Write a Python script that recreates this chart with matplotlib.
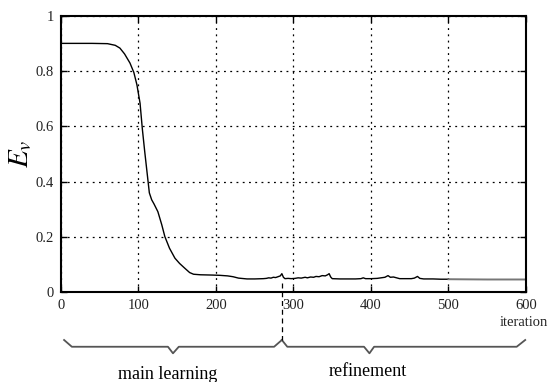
import matplotlib
matplotlib.use("Agg")
import matplotlib.pyplot as plt
import matplotlib.transforms as mtransforms

plt.rcParams['font.family'] = ['Liberation Serif', 'DejaVu Serif']
plt.rcParams['mathtext.fontset'] = 'stix'

# main learning + early refinement (black curve)
iters = [0, 20, 40, 60, 70, 76, 82, 89, 94, 98, 102, 105, 108, 110, 112, 114,
         117, 120, 125, 130, 134, 140, 147, 153, 160, 166, 171, 180, 195, 205,
         215, 222, 229, 240, 250, 261, 265, 268, 271, 274, 277, 280, 283, 285,
         287, 289, 293, 297, 302, 306, 310, 315, 318, 322, 326, 329, 333, 337,
         341, 344, 346, 348, 350, 360, 370, 380, 387, 390, 393, 400, 408, 413,
         418, 422, 425, 429, 433, 437, 445, 452, 456, 460, 463, 468, 480, 490, 500]
err = [0.900, 0.900, 0.900, 0.899, 0.893, 0.883, 0.862, 0.829, 0.795, 0.750,
       0.684, 0.590, 0.510, 0.460, 0.410, 0.360, 0.335, 0.320, 0.292, 0.245,
       0.202, 0.160, 0.124, 0.105, 0.087, 0.072, 0.066, 0.064, 0.063, 0.062,
       0.060, 0.057, 0.052, 0.049, 0.049, 0.050, 0.051, 0.053, 0.052, 0.055,
       0.054, 0.057, 0.060, 0.068, 0.055, 0.050, 0.051, 0.050, 0.051, 0.053,
       0.052, 0.055, 0.053, 0.056, 0.055, 0.058, 0.057, 0.061, 0.060, 0.064,
       0.068, 0.056, 0.050, 0.049, 0.049, 0.049, 0.050, 0.053, 0.050, 0.050,
       0.051, 0.053, 0.055, 0.061, 0.055, 0.056, 0.053, 0.050, 0.050, 0.050,
       0.052, 0.058, 0.051, 0.049, 0.049, 0.048, 0.048]

# tail (drawn in grey)
tail_iters = [500, 550, 600]
tail_err = [0.048, 0.047, 0.047]

xticks = [0, 100, 200, 300, 400, 500, 600]
yticks = [0, 0.2, 0.4, 0.6, 0.8, 1]
ytick_labels = ["0", "0.2", "0.4", "0.6", "0.8", "1"]

split_iter = 285
phase_names = ["main learning", "refinement"]

fig = plt.figure(figsize=(5.51, 3.82), dpi=100)
ax = fig.add_axes([0.1107, 0.2343, 0.8439, 0.7246])

ax.plot(iters, err, color='black', lw=1.0)
ax.plot(tail_iters, tail_err, color='#777777', lw=1.4)

ax.set_xlim(0, 600)
ax.set_ylim(0, 1)
ax.set_xticks(xticks)
ax.set_xticklabels([str(t) for t in xticks])
ax.set_yticks(yticks)
ax.set_yticklabels(ytick_labels)
ax.tick_params(direction='in', length=4, width=1, top=True, right=True,
               labelsize=10.5, pad=5, labelcolor='#222222')
for s in ax.spines.values():
    s.set_linewidth(1.5)
ax.grid(True, color='black', linestyle=(0, (1.5, 3.5)), linewidth=0.9)

ax.text(-0.087, 0.5, r'$E_v$', transform=ax.transAxes, rotation=90,
        ha='center', va='center', fontsize=21)
ax.text(0.9957, -0.11, 'iteration', transform=ax.transAxes,
        ha='center', va='center', fontsize=10.5, color='#222222')

# braces below the axis (data x, axes y)
trans = mtransforms.blended_transform_factory(ax.transData, ax.transAxes)
y_top, y_mid, y_low = -0.1716, -0.196, -0.2197
brace1_x = [4, 14, 138, 144.5, 152, 275, split_iter]
brace1_y = [y_top, y_mid, y_mid, y_low, y_mid, y_mid, y_top]
brace2_x = [split_iter, 292, 391, 398, 404, 588, 599]
brace2_y = [y_top, y_mid, y_mid, y_low, y_mid, y_mid, y_top]
ax.plot(brace1_x, brace1_y, color='#555555', lw=1.3, transform=trans, clip_on=False)
ax.plot(brace2_x, brace2_y, color='#555555', lw=1.3, transform=trans, clip_on=False)
ax.plot([split_iter, split_iter], [0.035, y_top], color='black', lw=0.9,
        linestyle=(0, (4, 3)), transform=trans, clip_on=False)

ax.text(0.2295, -0.313, phase_names[0], transform=ax.transAxes,
        ha='center', va='baseline', fontsize=13)
ax.text(0.659, -0.3017, phase_names[1], transform=ax.transAxes,
        ha='center', va='baseline', fontsize=13)

fig.savefig('out.png', dpi=100)
